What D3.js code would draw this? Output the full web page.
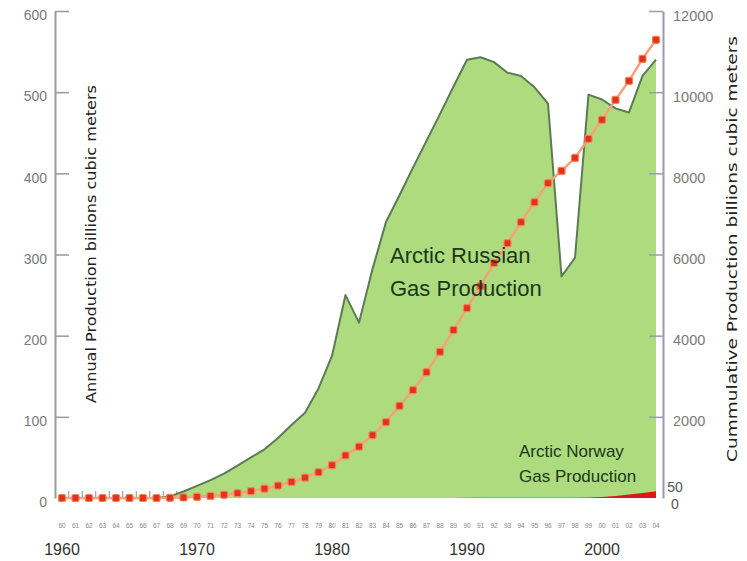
<!DOCTYPE html>
<html><head><meta charset="utf-8">
<script src="https://cdn.jsdelivr.net/npm/d3@7"></script>
<style>body{margin:0;background:#fff} svg{display:block}</style>
</head><body>
<svg id="c" width="747" height="561"></svg>
<script>
const years = [1960,1961,1962,1963,1964,1965,1966,1967,1968,1969,
  1970,1971,1972,1973,1974,1975,1976,1977,1978,1979,
  1980,1981,1982,1983,1984,1985,1986,1987,1988,1989,
  1990,1991,1992,1993,1994,1995,1996,1997,1998,1999,
  2000,2001,2002,2003,2004];
const russiaAnnual = [0,0,0,0,0,0,0,0,2,8,
  15,22,30,40,50,60,74,90,105,135,
  175,250,216,282,340,373,407,440,473,507,
  540,543,537,524,520,506,486,273,296,497,
  491,480,475,520,540];
const russiaCumulative = [0,0,0,0,0,0,0,0,5,12,
  28,50,80,120,170,230,305,395,500,635,
  810,1050,1265,1550,1870,2270,2660,3100,3600,4140,
  4680,5220,5790,6280,6800,7290,7760,8060,8380,8850,
  9320,9810,10280,10820,11290];
const norwayAnnual = [0,0,0,0,0,0,0,0,0,0,
  0,0,0,0,0,0,0,0,0,0,
  0,0,0,0,0,0,0,0,0,0,
  0.5,0.5,1,1,1,1,1,1,1,1.5,
  4,8,13,19,26];
const leftTicks = [0,100,200,300,400,500,600];
const rightTicks = [2000,4000,6000,8000,10000,12000];
const decadeLabels = [1960,1970,1980,1990,2000];
const norwayTickLabels = [50,0];

const svg = d3.select('#c');
const x = d3.scaleLinear().domain([1960,2004]).range([62,656]);
const yL = d3.scaleLinear().domain([0,600]).range([498,11]);
const yR = d3.scaleLinear().domain([0,12000]).range([498,11]);
const yN = d3.scaleLinear().domain([0,50]).range([498,485]);

// category tick marks between years
svg.append('g').selectAll('line').data(years.slice(0,-1)).join('line')
  .attr('x1', d=>x(d+0.5)).attr('x2', d=>x(d+0.5))
  .attr('y1', yL(0)).attr('y2', yL(0)-7)
  .attr('stroke','#8a8a8a').attr('stroke-width',1);

// Russian annual area
const area = d3.area().x((d,i)=>x(years[i])).y0(yL(0)).y1(d=>yL(d));
svg.append('path').datum(russiaAnnual).attr('d', area).attr('fill','#afdb7f');
const outline = d3.line().x(d=>x(d[0])).y(d=>yL(d[1]));
svg.append('path').datum(years.map((y,i)=>[y,russiaAnnual[i]]).filter(d=>d[0]>=1967))
  .attr('d', outline).attr('fill','none').attr('stroke','#5d7a55').attr('stroke-width',2)
  .attr('stroke-linejoin','round');

// Norway area
const nArea = d3.area().x((d,i)=>x(years[i])).y0(yN(0)).y1(d=>yN(d));
svg.append('path').datum(norwayAnnual).attr('d', nArea).attr('fill','#dd1a12');

// axes
const fontAxis = '"Liberation Sans", Arial, sans-serif';
const gL = svg.append('g').attr('transform','translate(55,0)')
  .call(d3.axisLeft(yL).tickValues(leftTicks).tickFormat(d3.format('d'))
    .tickSize(-14).tickSizeOuter(0).tickPadding(8));
gL.select('.domain').attr('stroke','#9a9a9a').attr('stroke-width',2);
gL.selectAll('.tick line').attr('stroke','#9a9a9a').attr('stroke-width',1.5)
  .filter(d=>d===0).remove();
gL.selectAll('.tick text').attr('fill','#7a7a7a').attr('font-size',14)
  .attr('font-family',fontAxis).attr('dy','0.62em');

const gR = svg.append('g').attr('transform','translate(663,0)')
  .call(d3.axisRight(yR).tickValues(rightTicks).tickFormat(d3.format('d'))
    .tickSize(-14).tickSizeOuter(0).tickPadding(10));
gR.select('.domain').attr('stroke','#9a9ab4').attr('stroke-width',2);
gR.selectAll('.tick line').attr('stroke','#9a9ab4').attr('stroke-width',1.5);
gR.selectAll('.tick text').attr('fill','#7a7a7a').attr('font-size',14.5)
  .attr('font-family',fontAxis).attr('dy','0.62em');

svg.append('g').selectAll('text').data(norwayTickLabels).join('text')
  .attr('x',675).attr('y',d=>yN(d)).attr('dy',(d,i)=>i===0?7:11)
  .attr('text-anchor','middle').attr('font-size',14).attr('font-family',fontAxis)
  .attr('fill','#555').text(d=>d);

// cumulative line + markers
const cumLine = d3.line().x((d,i)=>x(years[i])).y(d=>yR(d));
svg.append('path').datum(russiaCumulative).attr('d', cumLine)
  .attr('fill','none').attr('stroke','#f6a07c').attr('stroke-width',2.5);
svg.append('g').selectAll('rect').data(russiaCumulative).join('rect')
  .attr('x',(d,i)=>x(years[i])-3.5).attr('y',d=>yR(d)-3.5)
  .attr('width',7).attr('height',7).attr('rx',1.5)
  .attr('fill','#e2311f').attr('stroke','#f4834f').attr('stroke-width',1.2);

// x labels
svg.append('g').selectAll('text').data(years).join('text')
  .attr('x',d=>x(d)).attr('y',528).attr('text-anchor','middle')
  .attr('font-size',6.5).attr('font-family',fontAxis).attr('fill','#888')
  .text(d=>String(d%100).padStart(2,'0'));
svg.append('g').selectAll('text').data(decadeLabels).join('text')
  .attr('x',d=>x(d)).attr('y',555).attr('text-anchor','middle')
  .attr('font-size',16).attr('font-family',fontAxis).attr('fill','#333')
  .text(d=>d);

// titles
svg.append('text').attr('transform','translate(96,244) rotate(-90)')
  .attr('text-anchor','middle').attr('font-size',14.5).attr('font-family','"DejaVu Sans", sans-serif')
  .attr('textLength',318).attr('lengthAdjust','spacingAndGlyphs')
  .attr('fill','#222').text('Annual Production billions cubic meters');
svg.append('text').attr('transform','translate(737,249) rotate(-90)')
  .attr('text-anchor','middle').attr('font-size',14.5).attr('font-family','"DejaVu Sans", sans-serif')
  .attr('textLength',426).attr('lengthAdjust','spacingAndGlyphs')
  .attr('fill','#222').text('Cummulative Production billions cubic meters');

// in-plot labels
const lab = svg.append('g').attr('font-family',fontAxis).attr('fill','#1b381b');
lab.append('text').attr('x',390).attr('y',263).attr('font-size',22).text('Arctic Russian');
lab.append('text').attr('x',390).attr('y',296).attr('font-size',22).text('Gas Production');
lab.append('text').attr('x',519).attr('y',457).attr('font-size',17).text('Arctic Norway');
lab.append('text').attr('x',519).attr('y',482).attr('font-size',17).text('Gas Production');
</script>
</body></html>
